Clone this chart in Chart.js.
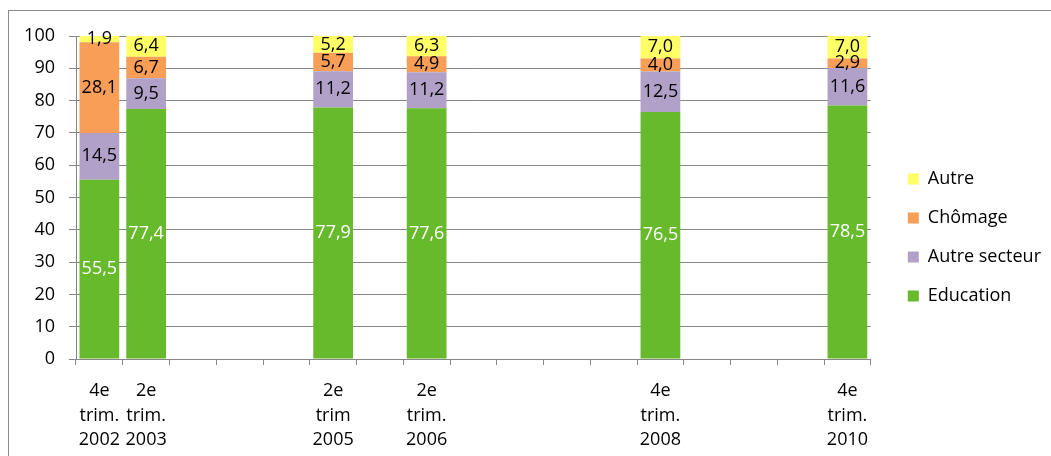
<!DOCTYPE html>
<html>
<head>
<meta charset="utf-8">
<script src="https://cdn.jsdelivr.net/npm/chart.js@4/dist/chart.umd.min.js"></script>
<style>
  html, body { margin: 0; padding: 0; background: #fff; }
  body { width: 1051px; height: 456px; position: relative; overflow: hidden; }
  #frame { position: absolute; left: 8px; top: 10px; width: 1100px; height: 500px; border: 1px solid #8c8c8c; box-sizing: border-box; }
  #wrap { position: absolute; left: 0; top: 0; width: 1051px; height: 456px; }
</style>
</head>
<body>
<div id="frame"></div>
<div id="wrap"><canvas id="c" width="1051" height="456"></canvas></div>
<script>
// Categories (quarterly timeline, only some labelled)
const categories = [
  ["4e", "trim.", "2002"],
  ["2e", "trim.", "2003"],
  "", "", "",
  ["2e", "trim", "2005"],
  "",
  ["2e", "trim.", "2006"],
  "", "", "", "",
  ["4e", "trim.", "2008"],
  "", "", "",
  ["4e", "trim.", "2010"]
];
const education     = [55.5, 77.4, null, null, null, 77.9, null, 77.6, null, null, null, null, 76.5, null, null, null, 78.5];
const autreSecteur  = [14.5,  9.5, null, null, null, 11.2, null, 11.2, null, null, null, null, 12.5, null, null, null, 11.6];
const chomage       = [28.1,  6.7, null, null, null,  5.7, null,  4.9, null, null, null, null,  4.0, null, null, null,  2.9];
const autre         = [ 1.9,  6.4, null, null, null,  5.2, null,  6.3, null, null, null, null,  7.0, null, null, null,  7.0];
const yTicks = [0, 10, 20, 30, 40, 50, 60, 70, 80, 90, 100];

const FONT = "'Open Sans', sans-serif";
const GRID = '#868686';

const labelPlugin = {
  id: 'segLabels',
  afterDatasetsDraw(chart) {
    const ctx = chart.ctx;
    ctx.save();
    ctx.font = "18px " + FONT;
    ctx.textAlign = 'center';
    ctx.textBaseline = 'middle';
    chart.data.datasets.forEach((ds, di) => {
      const meta = chart.getDatasetMeta(di);
      meta.data.forEach((el, i) => {
        const v = ds.data[i];
        if (v === null || v === undefined) return;
        const p = el.getProps(['x', 'y', 'base'], true);
        ctx.fillStyle = ds.labelColor;
        ctx.fillText(v.toFixed(1).replace('.', ','), p.x, (p.y + p.base) / 2);
      });
    });
    ctx.restore();
  }
};

new Chart(document.getElementById('c'), {
  type: 'bar',
  data: {
    labels: categories,
    datasets: [
      { label: 'Education', data: education, backgroundColor: '#66BA2B', labelColor: '#ffffff' },
      { label: 'Autre secteur', data: autreSecteur, backgroundColor: '#B1A1C8', labelColor: '#000000' },
      { label: 'Chômage', data: chomage, backgroundColor: '#F89E56', labelColor: '#000000' },
      { label: 'Autre', data: autre, backgroundColor: '#FFFF66', labelColor: '#000000' }
    ]
  },
  options: {
    responsive: false,
    animation: false,
    devicePixelRatio: 1,
    layout: { padding: { top: 20, bottom: 1, left: 0, right: 0 } },
    datasets: { bar: { barPercentage: 0.85, categoryPercentage: 1.0, borderWidth: 0 } },
    plugins: {
      legend: {
        position: 'right',
        reverse: true,
        labels: {
          boxWidth: 11, boxHeight: 11, padding: 21,
          color: '#000', font: { family: FONT, size: 18 }
        }
      },
      tooltip: { enabled: false }
    },
    scales: {
      x: {
        stacked: true,
        offset: true,
        grid: { display: true, offset: true, drawOnChartArea: false, drawTicks: true, tickLength: 6, color: GRID },
        border: { display: true, color: GRID, width: 1 },
        ticks: { color: '#000', font: { family: FONT, size: 18, lineHeight: 1.36 }, padding: 14, maxRotation: 0, autoSkip: false },
        afterFit: s => { s.height = 96; }
      },
      xt: {
        type: 'linear',
        axis: 'x',
        position: 'top',
        display: true,
        grid: { display: false, drawTicks: false },
        border: { display: false },
        ticks: { display: false },
        afterFit: s => { s.height = 16; }
      },
      y: {
        stacked: true,
        min: 0, max: 100,
        afterBuildTicks: s => { s.ticks = yTicks.map(v => ({ value: v })); },
        grid: { color: GRID, tickLength: 7, drawTicks: true },
        border: { display: true, color: GRID, width: 1 },
        ticks: { color: '#000', font: { family: FONT, size: 18 }, padding: 14 },
        afterFit: s => { s.width = 76; }
      },
      yr: {
        axis: 'y',
        position: 'right',
        display: true,
        grid: { display: false, drawTicks: false },
        border: { display: false },
        ticks: { display: false },
        afterFit: s => { s.width = 16; }
      }
    }
  },
  plugins: [labelPlugin]
});
</script>
</body>
</html>
